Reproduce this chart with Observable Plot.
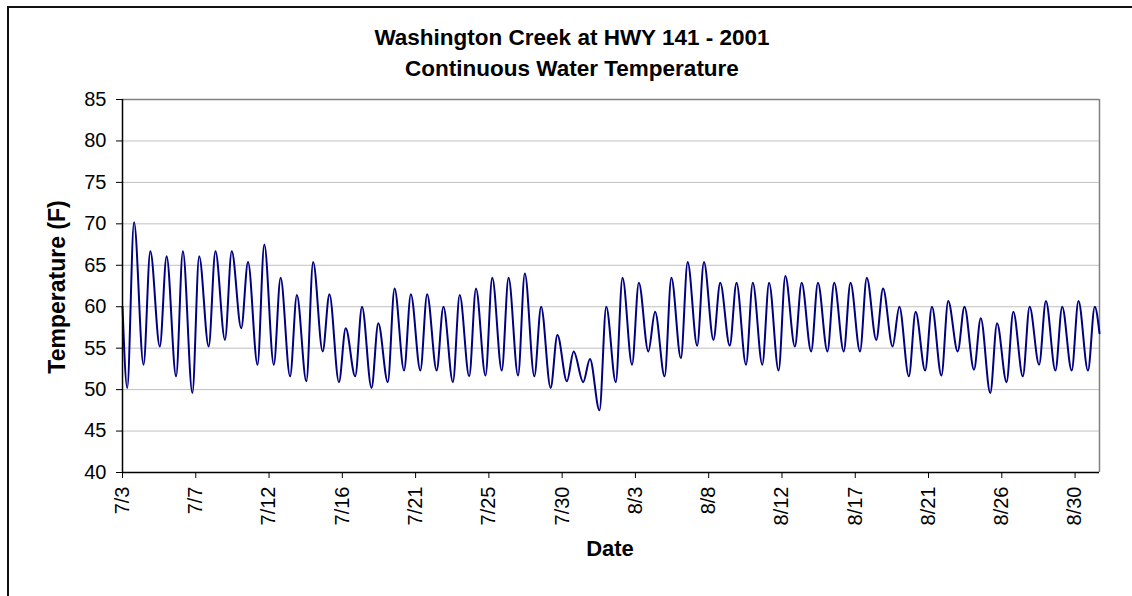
<!DOCTYPE html>
<html>
<head>
<meta charset="utf-8">
<script src="https://cdn.jsdelivr.net/npm/d3@7"></script>
<script src="https://cdn.jsdelivr.net/npm/@observablehq/plot@0.6"></script>
<style>
  html, body { margin:0; padding:0; background:#fff; overflow:hidden; }
  #wrap { position:relative; width:1132px; height:596px; font-family:"Liberation Sans", Arial, sans-serif; color:#000; overflow:hidden; }
  #border { position:absolute; left:7px; top:6px; width:1140px; height:620px; border-top:2px solid #111; border-left:2px solid #111; box-sizing:border-box; }
  .t { position:absolute; white-space:nowrap; font-weight:bold; transform:translate(-50%,-50%); }
  #chart { position:absolute; left:0; top:0; }
</style>
</head>
<body>
<div id="wrap">
  <div id="border"></div>
  <div id="chart"></div>
  <div class="t" id="title1" style="left:572px; top:38px; font-size:22.5px;"></div>
  <div class="t" id="title2" style="left:572px; top:69px; font-size:22.5px;"></div>
  <div class="t" id="ylab" style="left:57px; top:287px; font-size:23px; transform:translate(-50%,-50%) rotate(-90deg);"></div>
  <div class="t" id="xlab" style="left:610px; top:549px; font-size:22px;"></div>
</div>
<script>
const titleLines = ["Washington Creek at HWY 141 - 2001", "Continuous Water Temperature"];
const yLabel = "Temperature (F)";
const xLabel = "Date";

// x tick labels (one tick every 4.5 days starting 7/3 00:00)
const tickLabels = ["7/3","7/7","7/12","7/16","7/21","7/25","7/30","8/3","8/8","8/12","8/17","8/21","8/26","8/30"];
const tickStepDays = 4.5;
const yTicks = [40,45,50,55,60,65,70,75,80,85];

// Daily minimum / maximum water temperature (F), 7/3 .. 8/31
const dailyMin = [50.2,53.0,55.2,51.6,49.6,55.2,56.0,57.4,53.0,53.0,
                  51.6,51.0,54.6,50.9,51.6,50.2,50.9,52.3,52.3,52.3,
                  50.9,51.6,51.7,52.3,51.7,51.6,50.2,51.0,50.9,47.5,
                  50.9,53.0,54.6,51.6,53.8,55.3,56.0,55.3,53.0,53.0,
                  52.3,55.2,54.6,54.6,54.6,54.6,56.0,55.2,51.6,52.3,
                  51.7,54.6,52.4,49.6,50.9,51.6,53.0,52.3,52.3,52.3];
const dailyMax = [70.2,66.7,66.1,66.7,66.1,66.7,66.7,65.4,67.5,63.5,
                  61.4,65.4,61.5,57.4,60.0,58.0,62.2,61.5,61.5,60.0,
                  61.4,62.2,63.5,63.5,64.0,60.0,56.6,54.6,53.7,60.0,
                  63.5,62.9,59.4,63.5,65.4,65.4,62.9,62.9,62.9,62.9,
                  63.7,62.9,62.9,62.9,62.9,63.5,62.2,60.0,59.4,60.0,
                  60.7,60.0,58.6,58.0,59.4,60.0,60.7,60.0,60.7,60.0];
const startTemp = 60.0;   // 7/3 00:00
const endTemp = 56.8;     // 8/31 24:00
const minHour = 7;        // typical hour of daily minimum
const maxHour = 17;       // typical hour of daily maximum

document.getElementById("title1").textContent = titleLines[0];
document.getElementById("title2").textContent = titleLines[1];
document.getElementById("ylab").textContent = yLabel;
document.getElementById("xlab").textContent = xLabel;

const nDays = dailyMin.length;
const points = [{t: 0, v: startTemp}];
for (let d = 0; d < nDays; d++) {
  points.push({t: d + minHour / 24, v: dailyMin[d]});
  points.push({t: d + maxHour / 24, v: dailyMax[d]});
}
points.push({t: nDays, v: endTemp});

const xTicks = tickLabels.map((_, i) => i * tickStepDays);

const chart = Plot.plot({
  width: 1132,
  height: 596,
  marginLeft: 122,
  marginRight: 33,
  marginTop: 99,
  marginBottom: 124,
  style: {fontFamily: "'Liberation Sans', Arial, sans-serif", fontSize: "20px", color: "#000", background: "transparent", overflow: "visible"},
  x: {domain: [0, nDays], label: null},
  y: {domain: [40, 85], label: null},
  marks: [
    Plot.ruleY(yTicks.filter(v => v > 40 && v < 85), {y: d => d, stroke: "#c0c0c0", strokeWidth: 1}),
    Plot.ruleY([85], {stroke: "#808080", strokeWidth: 1.5}),
    Plot.ruleX([nDays], {stroke: "#808080", strokeWidth: 1.5}),
    Plot.line(points, {x: "t", y: "v", stroke: "#000080", strokeWidth: 2, curve: "monotone-x"}),
    Plot.ruleX([0], {stroke: "#000", strokeWidth: 1.5}),
    Plot.ruleY([40], {stroke: "#000", strokeWidth: 1.5}),
    Plot.axisY({ticks: yTicks, tickSize: 6, tickPadding: 10, label: null, tickFormat: d => String(d)}),
    Plot.axisX({ticks: xTicks, tickSize: 6, tickPadding: 8, tickRotate: -90, label: null,
                tickFormat: d => tickLabels[Math.round(d / tickStepDays)]})
  ]
});
document.getElementById("chart").appendChild(chart);
</script>
</body>
</html>
